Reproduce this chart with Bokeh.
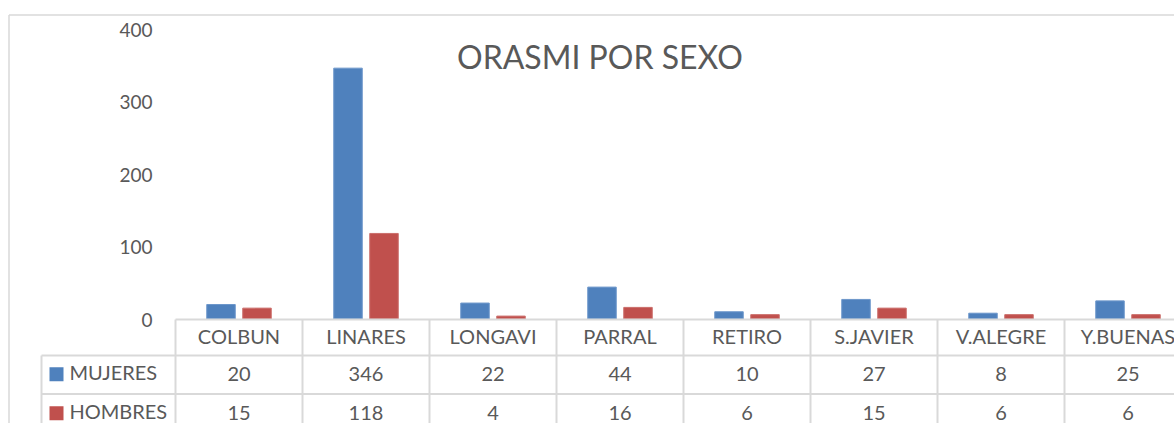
from bokeh.plotting import figure
from bokeh.models import Range1d
from bokeh.core.properties import value
from bokeh.embed import file_html
from bokeh.resources import INLINE

# ---- data ----
categories = ["COLBUN", "LINARES", "LONGAVI", "PARRAL", "RETIRO", "S.JAVIER", "V.ALEGRE", "Y.BUENAS"]
mujeres = [20, 346, 22, 44, 10, 27, 8, 25]
hombres = [15, 118, 4, 16, 6, 15, 6, 6]
series_names = ["MUJERES", "HOMBRES"]
y_ticks = [0, 100, 200, 300, 400]
title_text = "ORASMI POR SEXO"

# ---- layout constants (figure pixels) ----
W, H = 1174, 423
COL_LEFT = 175.0      # left edge of first category column
COL_W = 127.0         # width of a category column
ZERO_Y = 318.5        # pixel of value 0
PX_PER_UNIT = 0.725   # pixels per value unit
LEG_LEFT = 41.0
ROW_TOP = 319.0
ROW1 = 355.0
ROW2 = 393.5
ROW3 = 432.5

BLUE = "#4F81BD"
RED = "#C0504D"
TXT = "#595959"
GRID = "#D9D9D9"
FONT = "Lato"

x_main = Range1d(-COL_LEFT / COL_W, (W - COL_LEFT) / COL_W)
y_main = Range1d(-(H - ZERO_Y) / PX_PER_UNIT, ZERO_Y / PX_PER_UNIT)

p = figure(width=W, height=H, x_range=x_main, y_range=y_main,
           output_backend="svg", toolbar_location=None, min_border=0)
p.extra_x_ranges = {"px": Range1d(0, W)}
p.extra_y_ranges = {"px": Range1d(H, 0)}
p.axis.visible = False
p.grid.visible = False
p.outline_line_color = None
p.background_fill_color = "white"
p.border_fill_color = "white"

n = len(categories)
centers = [i + 0.5 for i in range(n)]
off = 18.0 / COL_W
bw = 28.5 / COL_W

# bars
p.vbar(x=[c - off for c in centers], top=mujeres, bottom=0, width=bw,
       fill_color=BLUE, line_color="#6D97CB", line_width=1)
p.vbar(x=[c + off for c in centers], top=hombres, bottom=0, width=bw,
       fill_color=RED, line_color="#CB6E6B", line_width=1)

# chart border (outer)
p.segment(x0=[8.5, 8.5], y0=[14.5, 14.5], x1=[8.5, W], y1=[H, 14.5],
          x_range_name="px", y_range_name="px", line_color=GRID, line_width=1.5)

# y tick labels
p.text(x=[152] * len(y_ticks), y=y_ticks, text=[str(t) for t in y_ticks],
       x_range_name="px", text_align="right", text_baseline="middle",
       y_offset=0.5, text_font=value(FONT), text_font_size="19px", text_color=TXT)

# title
p.text(x=[599.5], y=[56], text=[title_text], x_range_name="px", y_range_name="px",
       text_align="center", text_baseline="middle",
       text_font=value(FONT), text_font_size="32px", text_color=TXT)

# data table lines
col_edges = [COL_LEFT + COL_W * k for k in range(n + 1)]
p.segment(x0=[COL_LEFT] + [LEG_LEFT, LEG_LEFT, LEG_LEFT],
          y0=[ROW_TOP, ROW1, ROW2, ROW3],
          x1=[W, W, W, W], y1=[ROW_TOP, ROW1, ROW2, ROW3],
          x_range_name="px", y_range_name="px", line_color=GRID, line_width=2)
p.segment(x0=col_edges + [LEG_LEFT], y0=[ROW_TOP] * (n + 1) + [ROW1],
          x1=col_edges + [LEG_LEFT], y1=[H] * (n + 2),
          x_range_name="px", y_range_name="px", line_color=GRID, line_width=2)

# header labels
p.text(x=centers, y=[335.7] * n, text=categories, y_range_name="px",
       text_align="center", text_baseline="middle",
       text_font=value(FONT), text_font_size="20px", text_color=TXT)

# legend keys and names
p.rect(x=[56, 56], y=[373.7, 412.7], width=14, height=14,
       x_range_name="px", y_range_name="px", fill_color=[BLUE, RED], line_color=None)
p.text(x=[69, 69], y=[371.7, 410.7], text=series_names,
       x_range_name="px", y_range_name="px", text_align="left", text_baseline="middle",
       text_font=value(FONT), text_font_size="20px", text_color=TXT)

# values
p.text(x=centers, y=[373.5] * n, text=[str(v) for v in mujeres], y_range_name="px",
       text_align="center", text_baseline="middle",
       text_font=value(FONT), text_font_size="20px", text_color=TXT)
p.text(x=centers, y=[412.5] * n, text=[str(v) for v in hombres], y_range_name="px",
       text_align="center", text_baseline="middle",
       text_font=value(FONT), text_font_size="20px", text_color=TXT)

open("out.html", "w").write(file_html(p, INLINE))
